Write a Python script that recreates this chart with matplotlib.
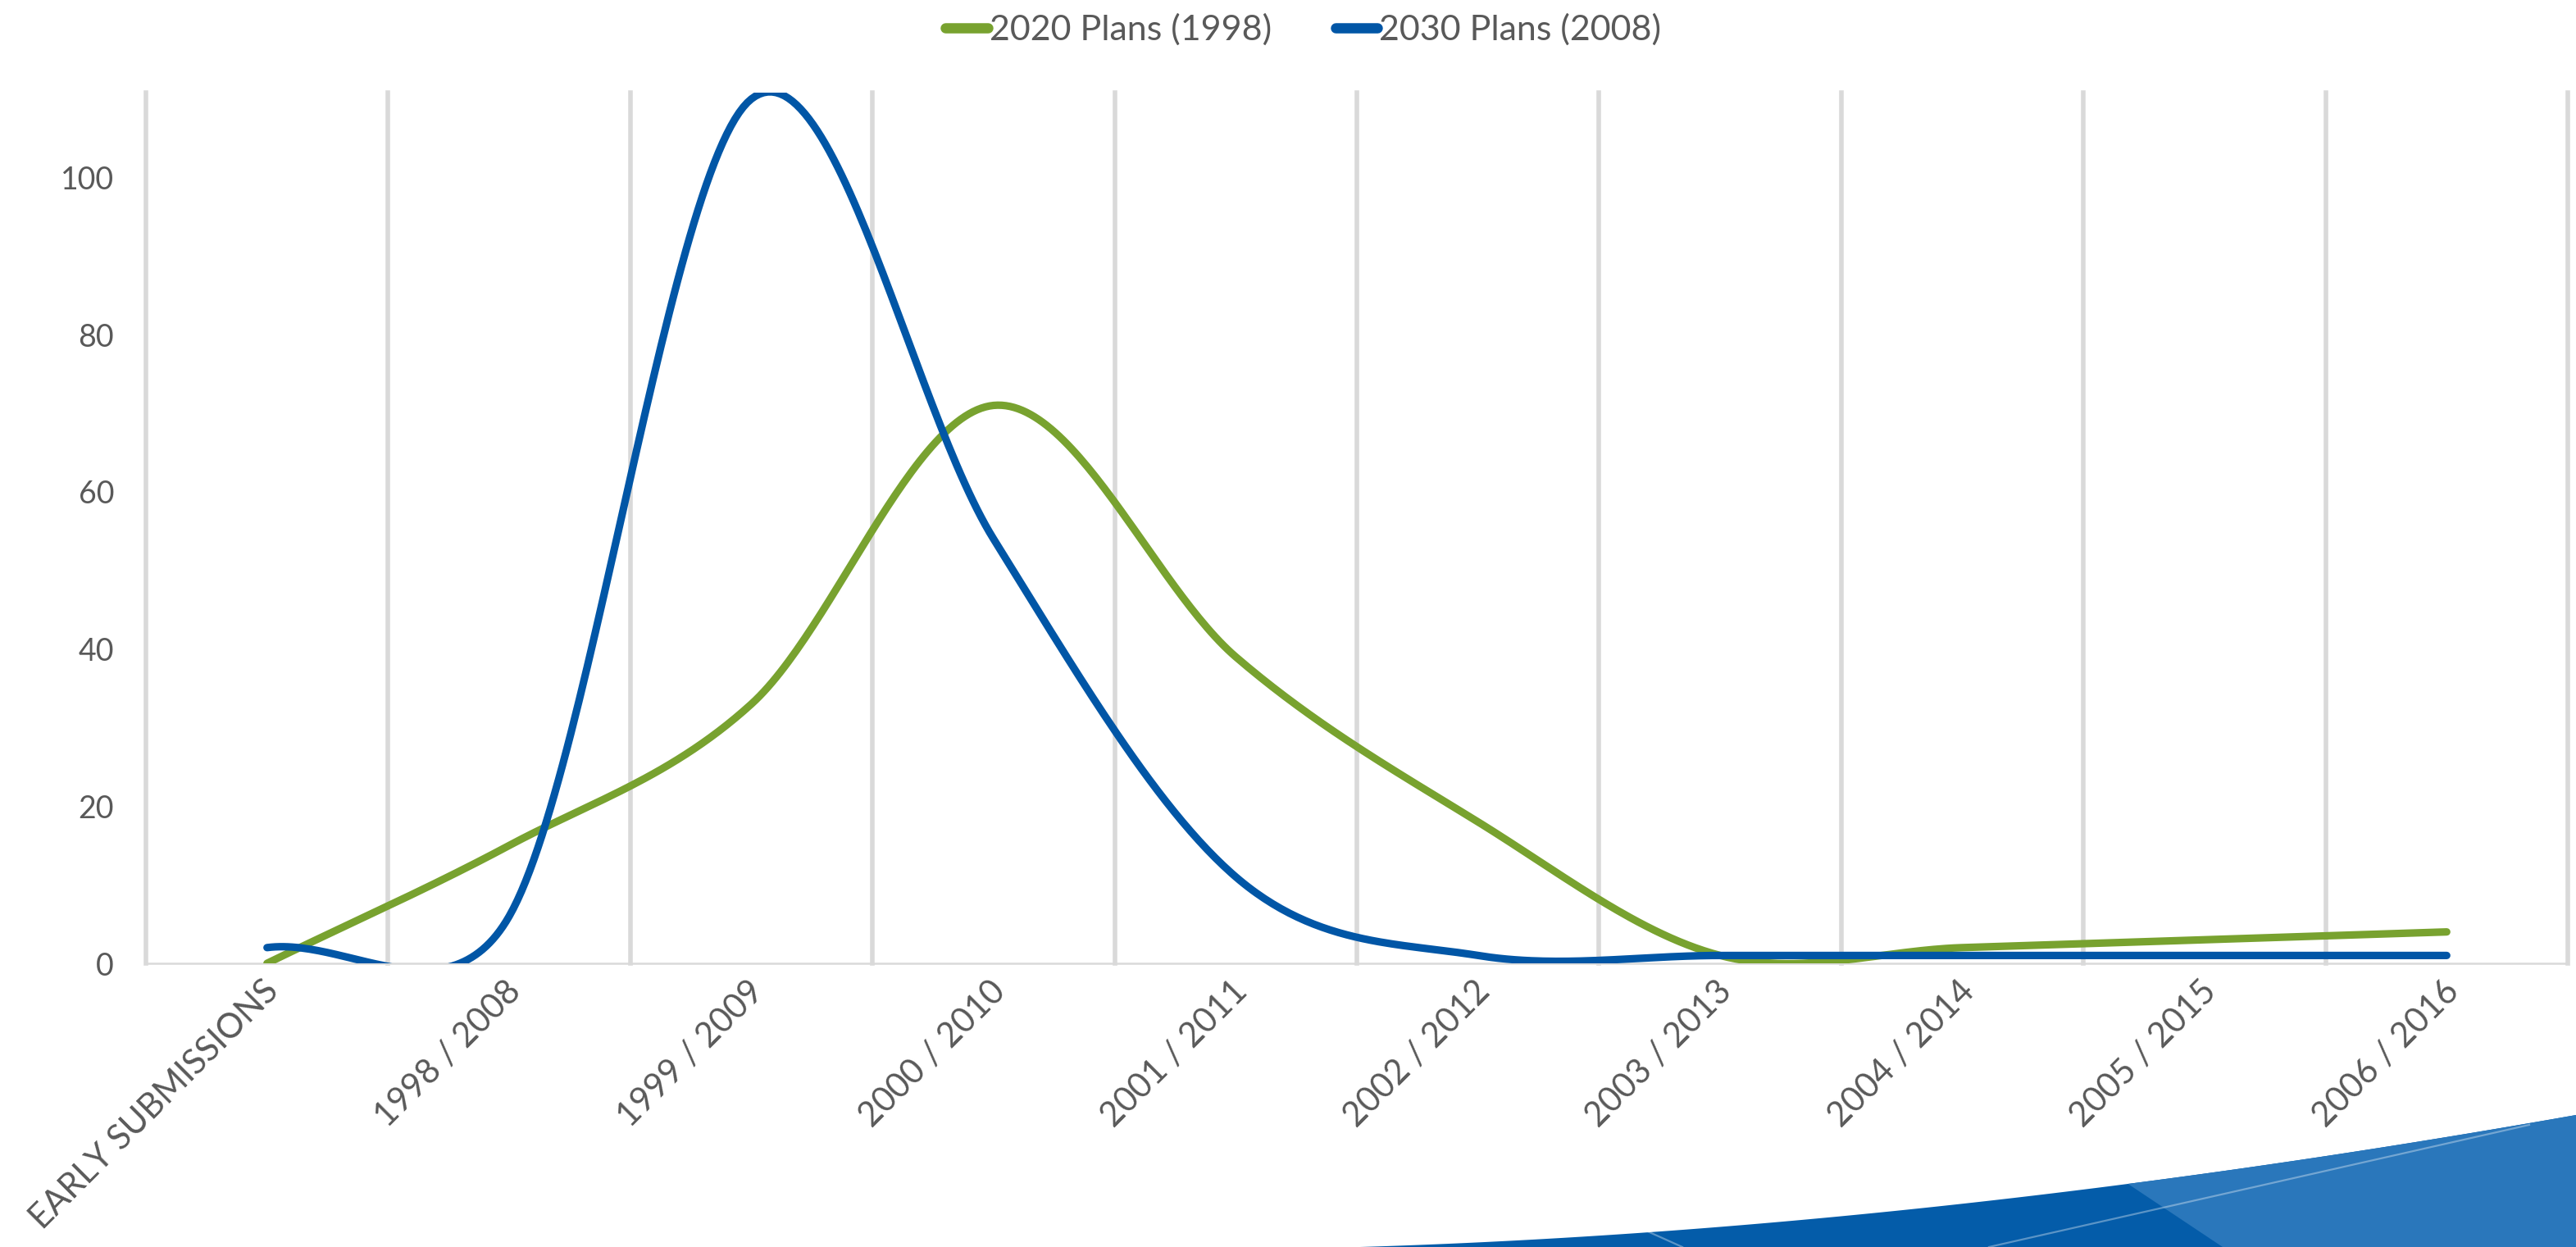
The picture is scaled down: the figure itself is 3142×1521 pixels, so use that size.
import numpy as np
import matplotlib
matplotlib.use("Agg")
import matplotlib.pyplot as plt
from matplotlib.patches import Polygon
from matplotlib.lines import Line2D
import matplotlib.transforms as mtransforms

plt.rcParams['font.family'] = ['Lato', 'DejaVu Sans']

# ---- data ----
categories = ["EARLY SUBMISSIONS", "1998 / 2008", "1999 / 2009", "2000 / 2010",
              "2001 / 2011", "2002 / 2012", "2003 / 2013", "2004 / 2014",
              "2005 / 2015", "2006 / 2016"]
plans_2020 = [0, 15, 33, 71, 39, 18, 1, 2, 3, 4]
plans_2030 = [2, 6, 110, 54, 11, 1, 1, 1, 1, 1]
series_names = ["2020 Plans (1998)", "2030 Plans (2008)"]
y_ticks = [0, 20, 40, 60, 80, 100]

GREEN = "#78A22F"
BLUE = "#0156A6"
GRID = "#D9D9D9"
TEXT = "#595959"

W, H, DPI = 3142, 1521, 200
fig = plt.figure(figsize=(W / DPI, H / DPI), dpi=DPI)
ax = fig.add_axes([178 / W, 1 - 1175 / H, (3132 - 178) / W, (1175 - 113) / H])
ax.set_xlim(-0.5, len(categories) - 0.5)
ax.set_ylim(0, 110.8)


def _clamp(v, maxlen):
    L = np.hypot(*v)
    return v if L <= maxlen or L == 0 else v * (maxlen / L)


def smooth_curve(ax, xs, ys, n=60):
    """Excel-like smoothed line: Catmull-Rom Bezier in display space,
    control arms limited to half of the adjacent segment."""
    P = ax.transData.transform(np.column_stack([xs, ys]).astype(float))
    N = len(P)
    cin = [None] * N
    cout = [None] * N
    for i in range(1, N - 1):
        tan = (P[i + 1] - P[i - 1]) / 6.0
        d01 = np.hypot(*(P[i] - P[i - 1]))
        d12 = np.hypot(*(P[i + 1] - P[i]))
        cin[i] = P[i] - _clamp(tan, 0.5 * d01)
        cout[i] = P[i] + _clamp(tan, 0.5 * d12)
    cout[0] = P[0] + (P[1] - P[0]) / 3.0
    cin[N - 1] = P[N - 1] - (P[N - 1] - P[N - 2]) / 3.0
    t = np.linspace(0, 1, n)[:, None]
    pts = []
    for i in range(N - 1):
        p0, c0, c1, p1 = P[i], cout[i], cin[i + 1], P[i + 1]
        seg = ((1 - t) ** 3) * p0 + 3 * ((1 - t) ** 2) * t * c0 + 3 * (1 - t) * t ** 2 * c1 + t ** 3 * p1
        pts.append(seg if i == 0 else seg[1:])
    pts = np.vstack(pts)
    return ax.transData.inverted().transform(pts)


xpos = np.arange(len(categories))

for b in np.arange(-0.5, len(categories)):
    ax.axvline(b, color=GRID, lw=2.0, zorder=0, clip_on=False)
ax.axhline(0, color=GRID, lw=0.9, zorder=0.5, clip_on=False)

for vals, col in [(plans_2020, GREEN), (plans_2030, BLUE)]:
    c = smooth_curve(ax, xpos, vals)
    ax.plot(c[:, 0], c[:, 1], color=col, lw=3.3, solid_capstyle='round', zorder=3)

for s in ax.spines.values():
    s.set_visible(False)

ax.set_yticks(y_ticks)
ax.set_yticklabels([str(v) for v in y_ticks])
ax.set_xticks(xpos)
ax.set_xticklabels(categories)
ax.tick_params(axis='both', length=0, colors=TEXT)
ax.tick_params(axis='y', pad=14, labelsize=13.5)
ax.tick_params(axis='x', pad=10, labelsize=15)
offset = mtransforms.ScaledTranslation(8 / DPI, 0, fig.dpi_scale_trans)
for lab in ax.get_xticklabels():
    lab.set_rotation(45)
    lab.set_ha('right')
    lab.set_va('center')
    lab.set_rotation_mode('anchor')
    lab.set_transform(lab.get_transform() + offset)

handles = [Line2D([], [], color=GREEN, lw=4.5, solid_capstyle='round'),
           Line2D([], [], color=BLUE, lw=4.5, solid_capstyle='round')]
leg = fig.legend(handles, series_names, loc='center', bbox_to_anchor=(0.506, 1 - 36 / H),
                 ncol=2, frameon=False, handlelength=1.2, handletextpad=0.05,
                 columnspacing=1.8, fontsize=15.5)
for txt in leg.get_texts():
    txt.set_color(TEXT)

def fpt(x, y):
    return (x / W, 1 - y / H)

A = np.array([1659.0, 1521.0]); B = np.array([2350.0, 1500.0]); C = np.array([3142.0, 1360.0])
tt = np.linspace(0, 1, 120)[:, None]
edge = (1 - tt) ** 2 * A + 2 * (1 - tt) * tt * B + tt ** 2 * C
dark = [fpt(*p) for p in edge] + [fpt(3142, 1521)]
fig.patches.append(Polygon(dark, closed=True, transform=fig.transFigure,
                           facecolor="#045CA9", edgecolor='none', zorder=0))
light_edge = edge[edge[:, 0] >= 2593]
light = [fpt(*p) for p in light_edge] + [fpt(3142, 1521), fpt(2711, 1521)]
fig.patches.append(Polygon(light, closed=True, transform=fig.transFigure,
                           facecolor="#2A77BB", edgecolor='none', zorder=0))
for (x0, y0, x1, y1) in [(3085, 1372, 2426, 1521), (2003, 1499, 2052, 1521)]:
    fig.lines.append(Line2D([x0 / W, x1 / W], [1 - y0 / H, 1 - y1 / H], transform=fig.transFigure,
                            color='white', alpha=0.35, lw=0.8))

fig.savefig("out.png", dpi=DPI)
